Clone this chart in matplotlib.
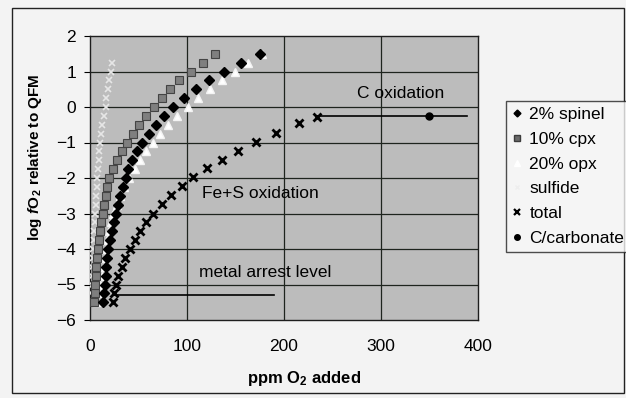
import numpy as np
import matplotlib as mpl
import matplotlib.pyplot as plt
from matplotlib.lines import Line2D
from matplotlib.patches import Rectangle

plt.rcParams['font.family'] = ['Liberation Sans', 'DejaVu Sans']
plt.rcParams['mathtext.fontset'] = 'custom'
plt.rcParams['mathtext.rm'] = 'Liberation Sans:bold'
plt.rcParams['mathtext.it'] = 'Liberation Sans:italic:bold'

# log fO2 (relative to QFM) steps used by the mineral curves
step_y = [-5.5, -5.25, -5.0, -4.75, -4.5, -4.25, -4.0, -3.75, -3.5, -3.25,
          -3.0, -2.75, -2.5, -2.25, -2.0, -1.75, -1.5, -1.25, -1.0, -0.75,
          -0.5, -0.25, 0.0, 0.25, 0.5, 0.75, 1.0, 1.25, 1.5]

# ppm O2 added for each phase
spinel_x = [13, 14, 15, 16, 17, 18, 19, 21, 23, 25, 27, 29, 31, 34, 37, 39,
            43, 48, 54, 61, 68, 76, 86, 97, 109, 123, 138, 156, 175]
cpx_x = [4, 5, 5, 6, 6, 7, 8, 9, 10, 11, 13, 14, 16, 18, 20, 24, 28, 33,
         38, 44, 51, 58, 66, 74, 82, 92, 104, 116, 129]
opx_x = [7, 9, 10, 12, 14, 15, 17, 18, 20, 22, 24, 28, 31, 35, 40, 46, 52,
         58, 65, 72, 80, 90, 101, 111, 124, 136, 150, 163, 177]
sulfide_x = [1, 1, 2, 2, 2, 3, 3, 4, 4, 5, 5, 6, 6, 7, 7, 8, 9, 9, 10, 11,
             12, 14, 16, 17, 19, 20, 22, 23]

total_x = [234, 215, 192, 171, 153, 136, 121, 106, 95, 84, 74, 65, 58, 52,
           46, 41, 36, 33, 29, 27, 25, 24]
total_y = [-0.28, -0.45, -0.73, -0.99, -1.24, -1.48, -1.72, -1.97, -2.23,
           -2.48, -2.73, -3.0, -3.25, -3.5, -3.75, -4.0, -4.25, -4.5, -4.75,
           -5.0, -5.25, -5.5]

carb_x = [350]
carb_y = [-0.25]
c_ox_x = [234, 389]
c_ox_y = [-0.25, -0.25]
metal_x = [24, 190]
metal_y = [-5.3, -5.3]

fig = plt.figure(figsize=(6.26, 3.98), dpi=100, facecolor='#f3f3f3')
ax = fig.add_axes([90/626, 1-320/398, 388/626, 284/398])
ax.set_facecolor('#bcbcbc')

# outer chart border
fig.patches.append(Rectangle((12/626, 5/398), 612/626, 385/398,
                             transform=fig.transFigure, fill=False,
                             edgecolor='#222222', lw=1.0))

for v in [-5, -4, -3, -2, -1, 0, 1]:
    ax.axhline(v, color='#1e241e', lw=0.9, zorder=1)
for v in [100, 200, 300]:
    ax.axvline(v, color='#1e241e', lw=0.9, zorder=1)

ax.plot(metal_x, metal_y, color='black', lw=1.2, zorder=2)
ax.plot(c_ox_x, c_ox_y, color='black', lw=1.2, zorder=2)

ax.plot(sulfide_x, step_y[:len(sulfide_x)], ls='none', marker='x', ms=4.5,
        mew=1.2, color='#e6e6e6', zorder=3)
ax.plot(opx_x, step_y, ls='none', marker='^', ms=6, mfc='white',
        mec='#f4f4f4', zorder=3)
ax.plot(cpx_x, step_y, ls='none', marker='s', ms=5.5, mfc='#7f7f7f',
        mec='#444444', mew=0.8, zorder=4)
ax.plot(spinel_x, step_y, ls='none', marker='D', ms=5, color='black',
        zorder=5)
ax.plot(total_x, total_y, ls='none', marker='x', ms=5.5, mew=2.0,
        color='black', zorder=5)
ax.plot(carb_x, carb_y, ls='none', marker='o', ms=5, color='black',
        zorder=5)

ax.text(275, 0.39, 'C oxidation', fontsize=12.5, va='center', ha='left')
ax.text(115, -2.45, 'Fe+S oxidation', fontsize=12.5, va='center', ha='left')
ax.text(112, -4.65, 'metal arrest level', fontsize=12.5, va='center',
        ha='left')

ax.set_xlim(0, 400)
ax.set_ylim(-6, 2)
ax.set_xticks([0, 100, 200, 300, 400])
ax.set_yticks([-6, -5, -4, -3, -2, -1, 0, 1, 2])
ax.tick_params(axis='x', length=0, pad=14, labelsize=12.5)
ax.tick_params(axis='y', length=4, pad=6, labelsize=12.5)
for s in ax.spines.values():
    s.set_color('#1e1e1e')
    s.set_linewidth(1.0)

ax.set_xlabel('ppm O$_2$ added', fontsize=12, fontweight='bold')
ax.xaxis.set_label_coords((304-90)/388, -(369-320)/284)
ax.set_ylabel('log $f$O$_{\\,2}$ relative to QFM', fontsize=11,
              fontweight='bold')
ax.yaxis.set_label_coords(-(90-44)/388, (320-157)/284)

handles = [
    Line2D([], [], ls='none', marker='D', ms=3.5, color='black'),
    Line2D([], [], ls='none', marker='s', ms=4, mfc='#6a6a6a', mec='#3c3c3c'),
    Line2D([], [], ls='none', marker='^', ms=4, mfc='white', mec='white'),
    Line2D([], [], ls='none', marker='x', ms=3.5, mew=1, color='#eeeeee'),
    Line2D([], [], ls='none', marker='x', ms=4, mew=1.6, color='black'),
    Line2D([], [], ls='none', marker='o', ms=4, color='black'),
]
labels = ['2% spinel', '10% cpx', '20% opx', 'sulfide', 'total', 'C/carbonate']
leg = fig.legend(handles, labels, loc='upper left',
                 bbox_to_anchor=(506/626, 1-101/398), fontsize=12.5,
                 frameon=True, fancybox=False, handlelength=0.6,
                 handletextpad=0.4, labelspacing=0.55, borderpad=0.35,
                 borderaxespad=0)
leg.get_frame().set_edgecolor('#222222')
leg.get_frame().set_facecolor('#f6f6f6')
leg.get_frame().set_linewidth(1.0)

fig.savefig('out.png', dpi=100, facecolor=fig.get_facecolor())
